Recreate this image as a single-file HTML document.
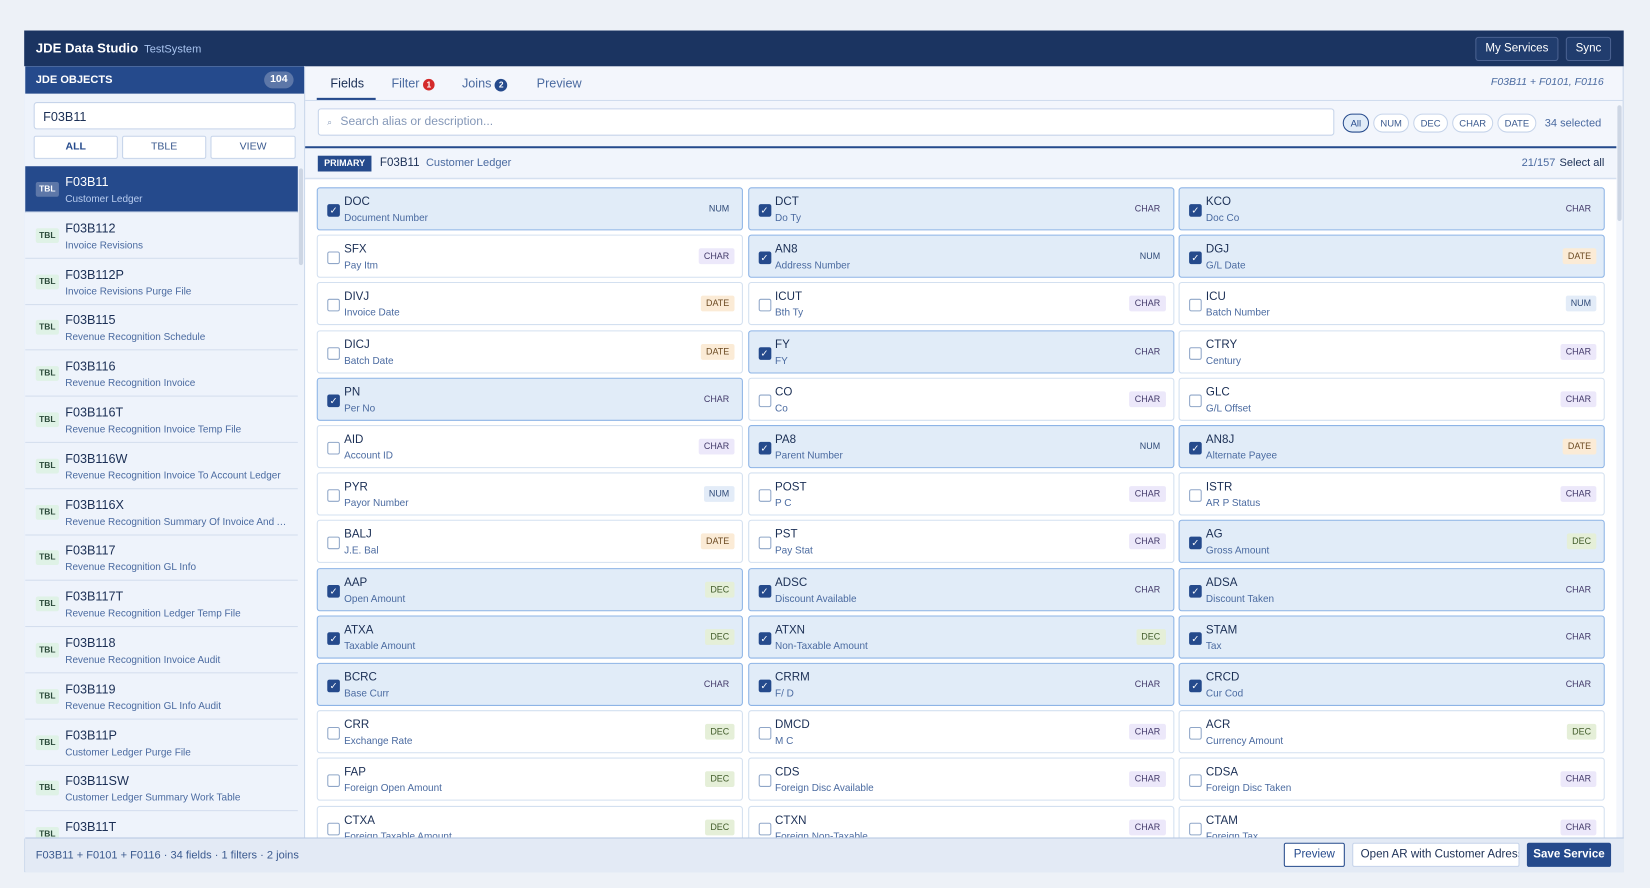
<!DOCTYPE html>
<html><head><meta charset="utf-8">
<style>
*{box-sizing:border-box;margin:0;padding:0}
body{width:1650px;height:888px;background:#edf1f7;font-family:"Liberation Sans",sans-serif;position:relative;overflow:hidden;color:#1b2f55}
#wrap{position:absolute;left:0;top:0;width:1568px;height:844px;transform:scale(1.0523,1.0521);transform-origin:0 0}
.abs{position:absolute}
#app{left:23px;top:29px;width:1520px;height:800px;background:#f3f6fc;border:1px solid #c9d6ea}
#hdr{left:23px;top:29px;width:1520px;height:34px;background:#1b3461}
.hbtn{top:35px;height:23px;border:1px solid #4a6190;border-radius:3px;background:#213d6e;color:#fff;font-size:11px;line-height:21px;text-align:center}
#left{left:23px;top:63px;width:267px;height:734px;background:#eef3fb;border-right:1px solid #c9d6ea}
.fbtn{top:129px;height:22px;background:#fff;border:1px solid #c6d4ea;border-radius:2px;font-size:10px;line-height:20px;text-align:center;color:#3b5a8f}
.item{left:24px;width:259px;height:44px;border-bottom:1px solid #d4deee}
.item .b{position:absolute;left:10px;top:15px;width:22px;height:14px;background:#dff2e6;color:#2b4a3a;font-size:8px;font-weight:bold;line-height:14px;text-align:center;border-radius:2px}
.item .c{position:absolute;left:38px;top:8px;font-size:12px;color:#1b2f55}
.item .d{position:absolute;left:38px;top:26px;font-size:9.5px;color:#4a6aa0;white-space:nowrap;overflow:hidden;width:215px;text-overflow:ellipsis}
.item.sel{background:#254a8c}
.item.sel .b{background:#5d77a8;color:#fff}
.item.sel .c{color:#fff}.item.sel .d{color:#b9cdf0}
.card{width:405px;height:41px;background:#fff;border:1px solid #d3e0f0;border-radius:3px}
.card.on{background:#e1ecf8;border-color:#8db4e6}
.card .cb{position:absolute;left:9px;top:15px;width:12px;height:12px;border:1px solid #8fa6c8;border-radius:2px;background:#fff}
.card.on .cb{background:#254a8c;border-color:#254a8c;color:#fff;font-size:9px;line-height:11px;text-align:center}
.card .c{position:absolute;left:25px;top:7px;font-size:11px;color:#1b2f55}
.card .d{position:absolute;left:25px;top:23px;font-size:9.5px;color:#4a6aa0}
.card .t{position:absolute;right:7px;top:12px;height:15px;padding:0 5px;font-size:8.5px;line-height:15px;border-radius:2px}
.t.CHAR{background:#ece8fa;color:#433a6a}.t.NUM{background:#e3ecf8;color:#2f4a78}
.t.DATE{background:#fbebd6;color:#6b4a22}.t.DEC{background:#e5efd8;color:#3f5a28}
.card.on .t.CHAR,.card.on .t.NUM{background:transparent}
.chip{top:108px;height:18px;border:1px solid #c6d4ea;border-radius:9px;font-size:9px;line-height:16px;text-align:center;color:#3b5a8f;background:#fff}
</style></head><body>
<div id="wrap">
<div class="abs" id="app"></div>
<div class="abs" id="hdr">
 <span class="abs" style="left:11px;top:10px;color:#fff;font-weight:bold;font-size:12.5px">JDE Data Studio</span>
 <span class="abs" style="left:114px;top:12px;color:#a9c4ef;font-size:10.5px">TestSystem</span>
</div>
<div class="abs hbtn" style="left:1402px;width:79px">My Services</div>
<div class="abs hbtn" style="left:1488px;width:43px">Sync</div>

<div class="abs" id="left"></div>
<div class="abs" style="left:24px;top:63px;width:265px;height:26px;background:#254a8c">
 <span class="abs" style="left:10px;top:7px;color:#fff;font-weight:bold;font-size:10.5px">JDE OBJECTS</span>
 <span class="abs" style="left:227px;top:5px;width:28px;height:16px;border-radius:8px;background:#5d77a8;color:#fff;font-size:10px;font-weight:bold;text-align:center;line-height:16px">104</span>
</div>
<div class="abs" style="left:32px;top:97px;width:249px;height:26px;background:#fff;border:1px solid #c6d4ea;border-radius:3px;font-size:12px;padding:6px 8px">F03B11</div>
<div class="abs fbtn" style="left:32px;width:80px;color:#254a8c;font-weight:bold">ALL</div>
<div class="abs fbtn" style="left:116px;width:80px">TBLE</div>
<div class="abs fbtn" style="left:200px;width:81px">VIEW</div>
<div id="list"></div>
<div class="abs" style="left:284px;top:160px;width:4px;height:92px;background:#cdd6e4;border-radius:2px"></div>

<div class="abs" style="left:290px;top:63px;width:1253px;height:33px;border-bottom:1px solid #d0dcee"></div>
<span class="abs" style="left:314px;top:72px;font-size:12px;color:#1b2f55">Fields</span>
<div class="abs" style="left:301px;top:93px;width:56px;height:2px;background:#254a8c"></div>
<span class="abs" style="left:372px;top:72px;font-size:12px;color:#4a6aa0">Filter <span style="display:inline-block;width:11px;height:11px;border-radius:6px;background:#d42a2a;color:#fff;font-size:8px;text-align:center;line-height:11px;font-weight:bold">1</span></span>
<span class="abs" style="left:439px;top:72px;font-size:12px;color:#4a6aa0">Joins <span style="display:inline-block;width:12px;height:12px;border-radius:6px;background:#254a8c;color:#fff;font-size:8px;text-align:center;line-height:12px;font-weight:bold">2</span></span>
<span class="abs" style="left:510px;top:72px;font-size:12px;color:#4a6aa0">Preview</span>
<span class="abs" style="right:44px;top:73px;font-size:10px;font-style:italic;color:#4a6aa0">F03B11 + F0101, F0116</span>

<div class="abs" style="left:302px;top:103px;width:966px;height:26px;background:#fff;border:1px solid #c6d4ea;border-radius:3px;font-size:11.5px;color:#8598b8;padding:6px 8px"><span style="font-size:8px;margin-right:8px">⌕</span>Search alias or description...</div>
<div class="abs chip" style="left:1276px;width:25px;border-color:#254a8c;background:#e1ecf8;color:#254a8c">All</div>
<div class="abs chip" style="left:1305px;width:34px">NUM</div>
<div class="abs chip" style="left:1343px;width:33px">DEC</div>
<div class="abs chip" style="left:1380px;width:39px">CHAR</div>
<div class="abs chip" style="left:1423px;width:37px">DATE</div>
<span class="abs" style="left:1468px;top:111px;font-size:10.5px;color:#4a6aa0">34 selected</span>

<div class="abs" style="left:290px;top:139px;width:1246px;height:2px;background:#254a8c"></div>
<div class="abs" style="left:290px;top:141px;width:1246px;height:29px;border-bottom:1px solid #d0dcee;background:#f1f5fc"></div>
<span class="abs" style="left:302px;top:148px;width:51px;height:15px;background:#254a8c;color:#fff;font-size:8.5px;font-weight:bold;text-align:center;line-height:15px">PRIMARY</span>
<span class="abs" style="left:361px;top:149px;font-size:11px">F03B11 <span style="color:#4a6aa0;font-size:10.5px;margin-left:3px">Customer Ledger</span></span>
<span class="abs" style="left:1446px;top:149px;font-size:10.5px;color:#4a6aa0">21/157</span>
<span class="abs" style="left:1482px;top:149px;font-size:10.5px;color:#1b2f55">Select all</span>
<div class="abs" style="left:290px;top:171px;width:1246px;height:625px;overflow:hidden;background:#fff"><div id="grid" style="position:relative"></div></div>
<div class="abs" style="left:1537px;top:100px;width:4px;height:110px;background:#cdd6e4;border-radius:2px"></div>

<div class="abs" style="left:24px;top:796px;width:1519px;height:33px;background:#e3eaf5;border-top:1px solid #b7c8e2"></div>
<span class="abs" style="left:34px;top:807px;font-size:10.5px;color:#3b5a8f">F03B11 + F0101 + F0116 · 34 fields · 1 filters · 2 joins</span>
<div class="abs" style="left:1220px;top:801px;width:58px;height:23px;background:#fff;border:1px solid #254a8c;border-radius:2px;font-size:11px;line-height:21px;text-align:center;color:#254a8c">Preview</div>
<div class="abs" style="left:1285px;top:801px;width:159px;height:23px;background:#fff;border:1px solid #c6d4ea;border-radius:2px;font-size:11px;line-height:21px;padding-left:7px;overflow:hidden;white-space:nowrap">Open AR with Customer Adress</div>
<div class="abs" style="left:1451px;top:801px;width:80px;height:23px;background:#254a8c;border-radius:2px;font-size:11px;font-weight:bold;line-height:23px;text-align:center;color:#fff">Save Service</div>
</div>
<script>
const objCodes=["F03B11","F03B112","F03B112P","F03B115","F03B116","F03B116T","F03B116W","F03B116X","F03B117","F03B117T","F03B118","F03B119","F03B11P","F03B11SW","F03B11T"];
const objDescs=["Customer Ledger","Invoice Revisions","Invoice Revisions Purge File","Revenue Recognition Schedule","Revenue Recognition Invoice","Revenue Recognition Invoice Temp File","Revenue Recognition Invoice To Account Ledger","Revenue Recognition Summary Of Invoice And Account Ledger","Revenue Recognition GL Info","Revenue Recognition Ledger Temp File","Revenue Recognition Invoice Audit","Revenue Recognition GL Info Audit","Customer Ledger Purge File","Customer Ledger Summary Work Table",""];
const fieldCodes=["DOC","DCT","KCO","SFX","AN8","DGJ","DIVJ","ICUT","ICU","DICJ","FY","CTRY","PN","CO","GLC","AID","PA8","AN8J","PYR","POST","ISTR","BALJ","PST","AG","AAP","ADSC","ADSA","ATXA","ATXN","STAM","BCRC","CRRM","CRCD","CRR","DMCD","ACR","FAP","CDS","CDSA","CTXA","CTXN","CTAM"];
const fieldDescs=["Document Number","Do Ty","Doc Co","Pay Itm","Address Number","G/L Date","Invoice Date","Bth Ty","Batch Number","Batch Date","FY","Century","Per No","Co","G/L Offset","Account ID","Parent Number","Alternate Payee","Payor Number","P C","AR P Status","J.E. Bal","Pay Stat","Gross Amount","Open Amount","Discount Available","Discount Taken","Taxable Amount","Non-Taxable Amount","Tax","Base Curr","F/ D","Cur Cod","Exchange Rate","M C","Currency Amount","Foreign Open Amount","Foreign Disc Available","Foreign Disc Taken","Foreign Taxable Amount","Foreign Non-Taxable","Foreign Tax"];
const fieldTypes=["NUM","CHAR","CHAR","CHAR","NUM","DATE","DATE","CHAR","NUM","DATE","CHAR","CHAR","CHAR","CHAR","CHAR","CHAR","NUM","DATE","NUM","CHAR","CHAR","DATE","CHAR","DEC","DEC","CHAR","CHAR","DEC","DEC","CHAR","CHAR","CHAR","CHAR","DEC","CHAR","DEC","DEC","CHAR","CHAR","DEC","CHAR","CHAR"];
const fieldChecked=[1,1,1,0,1,1,0,0,0,0,1,0,1,0,0,0,1,1,0,0,0,0,0,1,1,1,1,1,1,1,1,1,1,0,0,0,0,0,0,0,0,0];

const list=document.getElementById('list');
objCodes.forEach((c,i)=>{
  const el=document.createElement('div');
  el.className='abs item'+(i===0?' sel':'');
  el.style.top=(158+i*43.8)+'px';
  
  
  el.innerHTML='<span class="b">TBL</span><span class="c">'+c+'</span><span class="d">'+objDescs[i]+'</span>';
  list.appendChild(el);
});
const grid=document.getElementById('grid');
fieldCodes.forEach((c,i)=>{
  const r=Math.floor(i/3),col=i%3;
  const el=document.createElement('div');
  el.className='abs card'+(fieldChecked[i]?' on':'');
  el.style.left=(11+col*409.5)+'px';
  el.style.top=(7+r*45.2)+'px';
  
  
  el.innerHTML='<span class="cb">'+(fieldChecked[i]?'✓':'')+'</span><span class="c">'+c+'</span><span class="d">'+fieldDescs[i]+'</span><span class="t '+fieldTypes[i]+'">'+fieldTypes[i]+'</span>';
  grid.appendChild(el);
});
</script>
</body></html>
